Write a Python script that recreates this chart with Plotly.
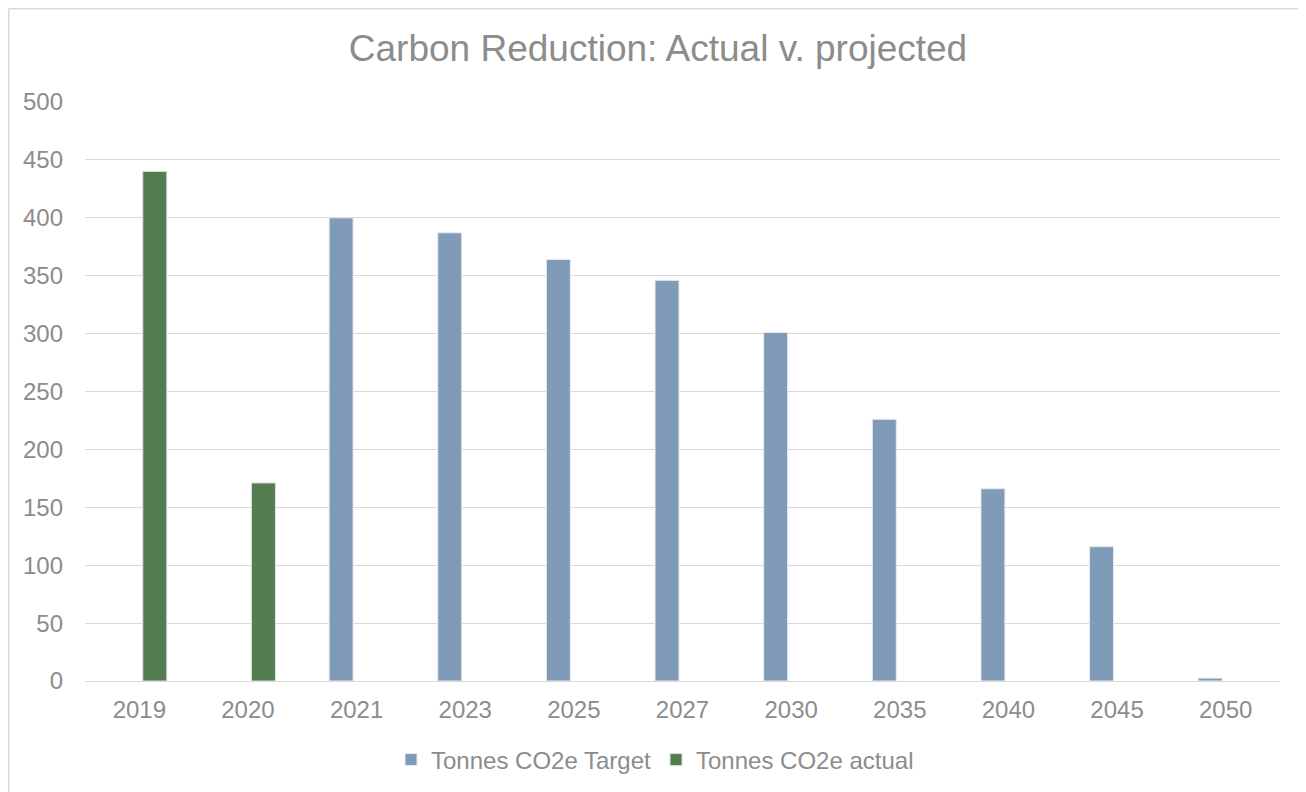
import plotly.graph_objects as go

categories = ["2019", "2020", "2021", "2023", "2025", "2027", "2030", "2035", "2040", "2045", "2050"]
target = [None, None, 400, 387, 364, 346, 301, 226, 166, 116, 2.5]
actual = [440, 171, None, None, None, None, None, None, None, None, None]
y_ticks = [0, 50, 100, 150, 200, 250, 300, 350, 400, 450, 500]

FONT = "Liberation Sans, Arial, sans-serif"
GREY = "#8C8C8C"

# page body adds an 8px offset; figure is sized/margined to compensate
OFF = 8
W, H = 1306 - OFF, 792 - OFF
L, T, R, B = 85 - OFF, 102 - OFF, 26, 111
PW, PH = W - L - R, H - T - B

fig = go.Figure()
fig.add_trace(go.Bar(x=categories, y=target, name="Tonnes CO2e Target",
                     marker=dict(color="#7F9BB7", line=dict(color="#E6EAF0", width=1))))
fig.add_trace(go.Bar(x=categories, y=actual, name="Tonnes CO2e actual",
                     marker=dict(color="#537D51", line=dict(color="#D9DED9", width=1))))

fig.update_layout(
    width=W, height=H,
    margin=dict(l=L, r=R, t=T, b=B, autoexpand=False),
    paper_bgcolor="white", plot_bgcolor="white",
    barmode="group", bargap=0.43, bargroupgap=0.226,
    title=dict(text="Carbon Reduction: Actual v. projected", x=(658 - OFF) / W, xanchor="center",
               y=1 - 40 / H, yanchor="middle",
               font=dict(family=FONT, size=37, color=GREY)),
    font=dict(family=FONT, size=24, color=GREY),
    legend=dict(orientation="h", x=(655 - OFF - L) / PW, xanchor="center",
                y=-(760 - OFF - T - PH) / PH, yanchor="middle",
                font=dict(family=FONT, size=24, color=GREY),
                traceorder="normal"),
    showlegend=True,
)
fig.update_xaxes(type="category", showgrid=False, showline=False, ticks="",
                 tickfont=dict(family=FONT, size=24, color=GREY), ticklabelstandoff=12)
fig.update_yaxes(range=[0, 500], tickvals=y_ticks, showgrid=True, gridcolor="#D9D9D9",
                 gridwidth=1, zeroline=True, zerolinecolor="#D9D9D9", zerolinewidth=1,
                 showline=False, ticks="", ticklabelstandoff=21,
                 tickfont=dict(family=FONT, size=24, color=GREY))

# chart border (top and left visible), drawn at the figure's top-left edge
y_top = 1 + (T - 0.75) / PH
x_left = -(L - 0.75) / PW
fig.add_shape(type="line", xref="paper", yref="paper",
              x0=x_left, x1=1.03, y0=y_top, y1=y_top,
              line=dict(color="#D9D9D9", width=1.5))
fig.add_shape(type="line", xref="paper", yref="paper",
              x0=x_left, x1=x_left, y0=y_top, y1=-(B + 10) / PH,
              line=dict(color="#D9D9D9", width=1.5))

fig.write_html("out.html")
